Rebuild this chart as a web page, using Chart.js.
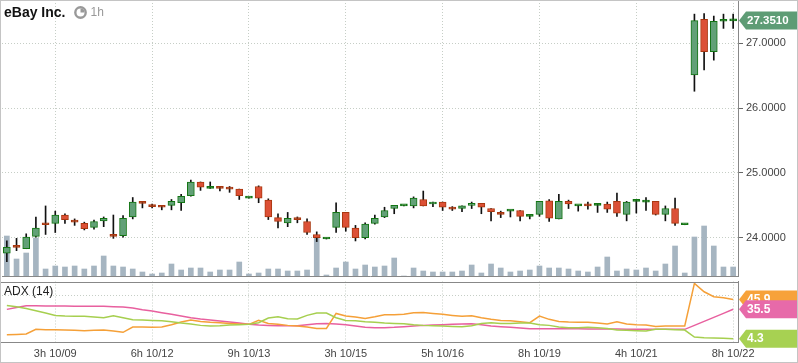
<!DOCTYPE html>
<html lang="en">
<head>
<meta charset="UTF-8">
<title>eBay Inc. 1h</title>
<script src="https://cdn.jsdelivr.net/npm/chart.js"></script>
<style>
  body { margin: 0; background: #fff; font-family: 'Liberation Sans', Arial, sans-serif; }
  #wrap { position: relative; width: 798px; height: 363px; overflow: hidden; background: #fff; }
  #priceChart { position: absolute; left: 0; top: 0; }
  #adxChart { position: absolute; left: 0; top: 280px; }
  #frame { position: absolute; left: 0; top: 0; width: 798px; height: 363px; box-sizing: border-box;
           border: 1px solid #c4c4c4; pointer-events: none; }
  #title { position: absolute; left: 4px; top: 4px; display: flex; align-items: center; }
  #title b { font-size: 14px; color: #111; }
  #title svg { margin-left: 9px; }
  #title span { margin-left: 3px; font-size: 12px; color: #999; }
  #adxTitle { position: absolute; left: 4px; top: 284px; font-size: 12px; color: #222; }
</style>
</head>
<body>
<div id="wrap">
  <canvas id="priceChart" width="798" height="277"></canvas>
  <canvas id="adxChart" width="798" height="83"></canvas>
  <div id="title">
    <b>eBay Inc.</b>
    <svg width="13" height="13" viewBox="0 0 13 13">
      <circle cx="6.5" cy="6.5" r="5.2" fill="none" stroke="#999" stroke-width="2.4"/>
      <path d="M6.5 6.5 L6.5 2.5 A4 4 0 0 1 10.5 6.5 Z" fill="#999"/>
    </svg>
    <span>1h</span>
  </div>
  <div id="adxTitle">ADX (14)</div>
  <div id="frame"></div>
</div>

<script>
// hourly candles, 10/08 .. 10/22
const opens = [23.76, 23.87, 23.83, 24.02, 24.22, 24.22, 24.35, 24.26, 24.22, 24.16,
               24.26, 24.04, 24.03, 24.32, 24.55, 24.50, 24.49, 24.50, 24.54, 24.65,
               24.86, 24.76, 24.78, 24.77, 24.75, 24.61, 24.79, 24.58, 24.31, 24.23,
               24.30, 24.25, 24.05, 23.98, 24.16, 24.39, 24.15, 24.00, 24.22, 24.32,
               24.45, 24.49, 24.49, 24.59, 24.52, 24.55, 24.46, 24.45, 24.50, 24.53,
               24.45, 24.38, 24.41, 24.42, 24.33, 24.36, 24.57, 24.29, 24.56, 24.49,
               24.51, 24.50, 24.52, 24.56, 24.36, 24.56, 24.55, 24.56, 24.36, 24.45,
               24.20, 26.51, 27.37, 26.87, 27.34, 27.345];
const highs = [23.95, 23.99, 24.06, 24.32, 24.49, 24.41, 24.37, 24.29, 24.24, 24.27,
               24.32, 24.35, 24.34, 24.62, 24.55, 24.52, 24.50, 24.59, 24.67, 24.89,
               24.86, 24.86, 24.79, 24.79, 24.75, 24.62, 24.80, 24.60, 24.37, 24.39,
               24.32, 24.29, 24.09, 23.99, 24.54, 24.39, 24.19, 24.23, 24.35, 24.47,
               24.50, 24.50, 24.63, 24.72, 24.55, 24.55, 24.48, 24.49, 24.55, 24.53,
               24.45, 24.41, 24.42, 24.42, 24.34, 24.56, 24.59, 24.67, 24.58, 24.50,
               24.55, 24.53, 24.55, 24.69, 24.56, 24.58, 24.62, 24.56, 24.49, 24.61,
               24.21, 27.45, 27.46, 27.42, 27.45, 27.45];
const lows = [23.63, 23.80, 23.83, 24.01, 24.05, 24.08, 24.22, 24.19, 24.12, 24.13,
              24.17, 23.99, 24.01, 24.29, 24.46, 24.46, 24.43, 24.43, 24.42, 24.64,
              24.73, 24.76, 24.72, 24.70, 24.59, 24.61, 24.54, 24.28, 24.15, 24.17,
              24.23, 24.05, 23.94, 23.98, 24.08, 24.10, 23.95, 23.98, 24.21, 24.31,
              24.37, 24.49, 24.46, 24.49, 24.48, 24.42, 24.42, 24.40, 24.45, 24.37,
              24.26, 24.31, 24.32, 24.26, 24.29, 24.33, 24.25, 24.29, 24.45, 24.41,
              24.44, 24.39, 24.39, 24.33, 24.26, 24.38, 24.42, 24.35, 24.26, 24.19,
              24.20, 26.26, 26.59, 26.74, 27.23, 27.23];
const closes = [23.85, 23.85, 24.01, 24.15, 24.20, 24.35, 24.28, 24.24, 24.14, 24.25,
                24.30, 24.02, 24.30, 24.55, 24.53, 24.48, 24.47, 24.56, 24.64, 24.86,
                24.78, 24.78, 24.76, 24.75, 24.65, 24.62, 24.61, 24.32, 24.25, 24.30,
                24.28, 24.08, 24.00, 23.99, 24.39, 24.16, 24.00, 24.21, 24.30, 24.42,
                24.50, 24.50, 24.61, 24.49, 24.55, 24.47, 24.44, 24.49, 24.53, 24.47,
                24.40, 24.36, 24.42, 24.33, 24.34, 24.56, 24.30, 24.56, 24.52, 24.50,
                24.49, 24.52, 24.44, 24.38, 24.55, 24.57, 24.56, 24.36, 24.45, 24.22,
                24.21, 27.35, 26.87, 27.34, 27.35, 27.351];
// volume, x10k shares
const volumes = [40, 17, 23, 38, 7, 10, 9, 10, 7, 10,
                 20, 10, 9, 7, 4, 2, 3, 12, 6, 8,
                 8, 4, 6, 6, 14, 2, 3, 7, 7, 5,
                 5, 6, 38, 1, 8, 14, 7, 11, 9, 10,
                 18, 0, 8, 5, 4, 4, 4, 5, 11, 3,
                 12, 8, 4, 5, 6, 10, 8, 8, 7, 5,
                 4, 9, 19, 5, 7, 6, 8, 5, 12, 30,
                 3, 39, 50, 30, 9, 9];

// ADX (14) panel
const adx = [35.4, 37.5, 39.3, 39.3, 39.1, 38.9, 38.9, 38.7, 38.6, 38.6,
             38.6, 38.2, 37.9, 36.8, 35.0, 33.6, 31.8, 30.1, 28.3, 26.5,
             25.1, 24.1, 23.0, 21.9, 20.9, 19.5, 18.8, 18.4, 18.0, 18.0,
             18.0, 19.1, 20.2, 20.5, 19.8, 19.1, 17.7, 16.3, 15.9, 15.9,
             16.3, 17.0, 17.7, 18.4, 18.8, 19.1, 19.5, 19.8, 20.2, 19.1,
             17.7, 17.0, 16.3, 15.6, 14.9, 14.9, 14.8, 14.8, 14.7, 14.7,
             14.6, 14.6, 14.5, 14.5, 14.4, 14.4, 14.3, 14.3, 14.2, 14.2,
             14.2, 18.4, 22.6, 26.9, 31.1, 35.5];
const plusDI = [8.5, 8.8, 9.2, 14.2, 13.8, 13.8, 13.4, 13.1, 12.7, 13.1,
                13.4, 12.4, 11.0, 16.6, 16.6, 16.3, 16.6, 19.1, 21.9, 24.1,
                22.6, 21.6, 21.2, 20.5, 19.8, 19.5, 23.7, 20.5, 19.5, 18.4,
                17.7, 16.6, 15.2, 15.2, 31.1, 28.3, 27.2, 25.8, 27.6, 29.7,
                29.7, 30.1, 31.8, 32.2, 31.1, 30.1, 29.0, 28.0, 28.7, 26.5,
                24.8, 23.7, 23.4, 22.3, 21.2, 28.3, 24.8, 22.6, 21.9, 21.6,
                21.6, 20.9, 19.8, 22.3, 19.8, 19.1, 18.8, 17.3, 17.7, 17.7,
                17.7, 63.0, 54.1, 48.8, 47.8, 45.9];
const minusDI = [39.6, 38.2, 36.4, 34.0, 31.5, 29.0, 28.3, 28.0, 28.0, 27.2,
                 26.5, 28.7, 26.5, 24.4, 24.1, 23.7, 23.4, 22.3, 20.9, 19.8,
                 18.4, 17.7, 18.0, 18.8, 19.1, 19.5, 21.2, 26.2, 27.6, 25.5,
                 25.1, 29.0, 31.5, 31.5, 26.5, 23.7, 23.4, 22.3, 21.6, 20.9,
                 20.5, 20.2, 19.1, 18.4, 18.0, 17.7, 17.3, 17.0, 18.0, 20.5,
                 21.2, 20.5, 20.5, 20.9, 20.9, 19.1, 18.4, 16.6, 15.9, 15.9,
                 16.3, 15.9, 15.2, 13.4, 13.1, 12.7, 12.4, 14.2, 14.2, 13.8,
                 13.4, 6.0, 5.3, 5.0, 4.6, 4.3];

// one x label every 10 bars, starting at bar 5
const tickLabels = ['3h 10/09', '6h 10/12', '9h 10/13', '3h 10/15', '5h 10/16', '8h 10/19', '4h 10/21', '8h 10/22'];
const tickStart = 5, tickStep = 10;

const FONT = "'Liberation Sans', Arial, sans-serif";
const GRID = '#c6cec6';
const AXIS = '#888';
const UP_FILL = '#62a077', UP_LINE = '#137513';
const DN_FILL = '#dc5036', DN_LINE = '#a9370f';

const bars = closes.map((_, i) => i);
const isTick = i => i >= tickStart && (i - tickStart) % tickStep === 0;
const gridColor = c => isTick(c.index) ? GRID : 'rgba(0,0,0,0)';

function drawTag(ctx, x, y, color, text, font, right) {
  ctx.save();
  ctx.fillStyle = color;
  ctx.beginPath();
  ctx.moveTo(x, y);
  ctx.lineTo(x + 7, y - 9);
  ctx.lineTo(right, y - 9);
  ctx.lineTo(right, y + 9);
  ctx.lineTo(x + 7, y + 9);
  ctx.closePath();
  ctx.fill();
  ctx.fillStyle = '#fff';
  ctx.font = font;
  ctx.textBaseline = 'middle';
  ctx.fillText(text, x + 8, y + 0.5);
  ctx.restore();
}

const priceTag = {
  id: 'priceTag',
  afterDraw(chart) {
    const y = chart.scales.y.getPixelForValue(closes[closes.length - 1]);
    drawTag(chart.ctx, chart.chartArea.right + 1, y, '#5e9c75',
            closes[closes.length - 1].toFixed(4), 'bold 11.5px ' + FONT, chart.width);
  }
};

new Chart(document.getElementById('priceChart'), {
  type: 'bar',
  data: {
    labels: bars,
    datasets: [
      {
        label: 'Volume', data: volumes, yAxisID: 'yv', grouped: false, order: 3,
        barThickness: 5, backgroundColor: '#a6b5c1'
      },
      {
        label: 'Wick', data: lows.map((l, i) => [l, highs[i]]), yAxisID: 'y', grouped: false, order: 2,
        barThickness: 1, backgroundColor: '#111'
      },
      {
        label: 'eBay', data: opens.map((o, i) => [o, closes[i]]), yAxisID: 'y', grouped: false, order: 1,
        barThickness: 7, borderWidth: 1, borderSkipped: false, minBarLength: 2,
        backgroundColor: c => {
          const i = c.dataIndex, up = closes[i] >= opens[i];
          if (Math.abs(closes[i] - opens[i]) < 0.025) return up ? UP_LINE : DN_LINE;
          return up ? UP_FILL : DN_FILL;
        },
        borderColor: c => closes[c.dataIndex] >= opens[c.dataIndex] ? UP_LINE : DN_LINE
      }
    ]
  },
  options: {
    responsive: false,
    animation: false,
    events: [],
    layout: { padding: { left: 2, top: 0, bottom: 1, right: 0 } },
    plugins: { legend: { display: false }, tooltip: { enabled: false } },
    scales: {
      x: {
        offset: true,
        grid: { offset: false, color: gridColor, drawTicks: false },
        border: { display: true, color: AXIS, dash: [1, 2] },
        ticks: { display: false, autoSkip: false },
        afterFit: s => { s.height = 0; s.paddingLeft = 0; s.paddingRight = 0; }
      },
      y: {
        position: 'right', min: 23.409, max: 27.668,
        ticks: { stepSize: 1, includeBounds: false, callback: v => v.toFixed(4),
                 font: { family: FONT, size: 11 }, color: '#444', padding: 3 },
        grid: { color: GRID, tickColor: '#666', tickLength: 5, tickBorderDash: [] },
        border: { display: true, color: AXIS, dash: [1, 2] },
        afterFit: s => { s.width = 60; s.paddingTop = 0; s.paddingBottom = 0; }
      },
      yv: { display: false, min: 0, max: 276 }
    }
  },
  plugins: [priceTag]
});

const adxPanel = {
  id: 'adxPanel',
  afterDraw(chart) {
    const ctx = chart.ctx, a = chart.chartArea;
    ctx.save();
    ctx.strokeStyle = AXIS;
    ctx.lineWidth = 1;
    ctx.beginPath();
    ctx.moveTo(0, Math.round(a.top) + 0.5);
    ctx.lineTo(a.right, Math.round(a.top) + 0.5);
    ctx.moveTo(0, Math.round(a.bottom) - 0.5);
    ctx.lineTo(a.right, Math.round(a.bottom) - 0.5);
    ctx.stroke();
    ctx.restore();
    const ys = chart.scales.y;
    [[plusDI, '#f7a23a'], [adx, '#e76aa9'], [minusDI, '#a7d152']].forEach(([s, col]) => {
      const v = s[s.length - 1];
      drawTag(ctx, a.right + 1, ys.getPixelForValue(v), col, v.toFixed(1), 'bold 12px ' + FONT, chart.width);
    });
  }
};

new Chart(document.getElementById('adxChart'), {
  type: 'line',
  data: {
    labels: bars,
    datasets: [
      { label: '-DI', data: minusDI, borderColor: '#a6cf4f' },
      { label: '+DI', data: plusDI, borderColor: '#f5a038' },
      { label: 'ADX', data: adx, borderColor: '#e8609f' }
    ].map(d => Object.assign(d, { borderWidth: 1.5, pointRadius: 0, tension: 0, fill: false }))
  },
  options: {
    responsive: false,
    animation: false,
    events: [],
    layout: { padding: { left: 2, top: 1.5, bottom: 0, right: 0 } },
    plugins: { legend: { display: false }, tooltip: { enabled: false } },
    scales: {
      x: {
        offset: true,
        grid: { offset: false, color: gridColor, drawTicks: false },
        border: { display: false, dash: [1, 2] },
        ticks: {
          autoSkip: false, maxRotation: 0, padding: 5, color: '#444',
          font: { family: FONT, size: 11 },
          callback: (v, i) => isTick(i) ? tickLabels[(i - tickStart) / tickStep] : ''
        },
        afterFit: s => { s.height = 20.3; s.paddingLeft = 0; s.paddingRight = 0; }
      },
      y: {
        position: 'right', min: 0, max: 65,
        ticks: { display: false, stepSize: 50, includeBounds: false },
        grid: { color: GRID, drawTicks: false },
        border: { display: true, color: AXIS, dash: [1, 2] },
        afterFit: s => { s.width = 60; s.paddingTop = 0; s.paddingBottom = 0; }
      }
    }
  },
  plugins: [adxPanel]
});
</script>
</body>
</html>
